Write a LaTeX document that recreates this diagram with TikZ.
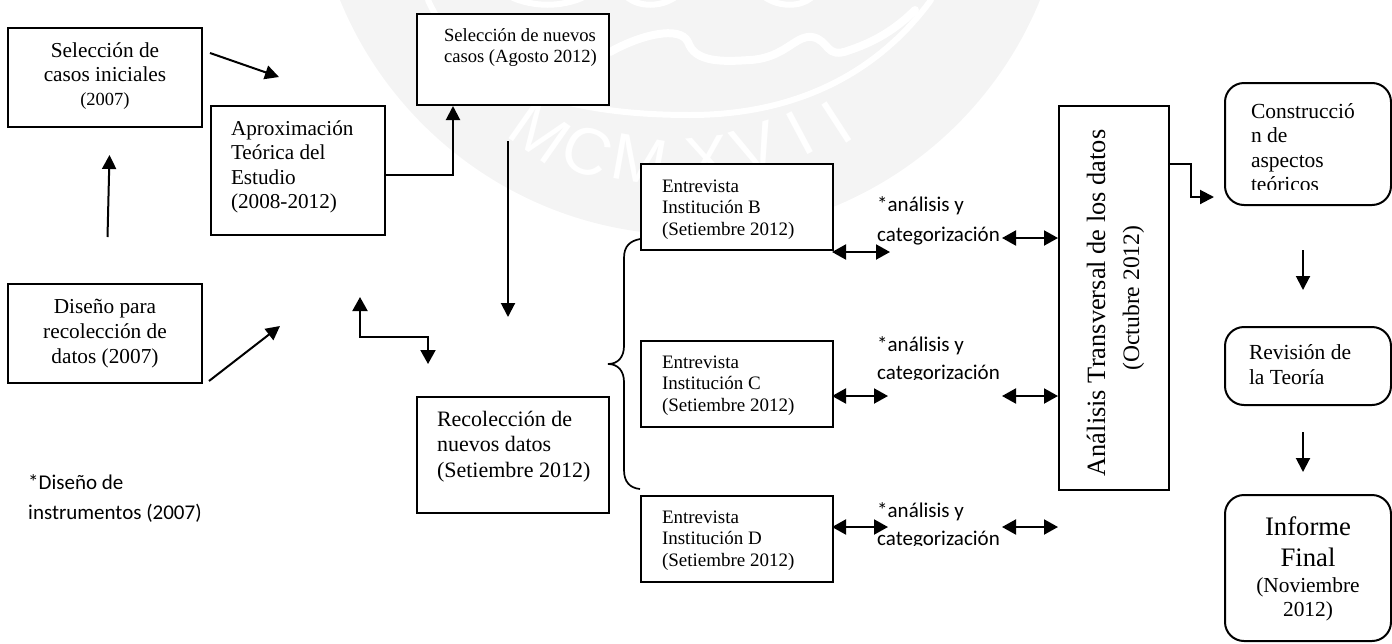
\documentclass[tikz,border=0pt]{standalone}
\usepackage{fontspec}
\setmainfont{Liberation Serif}
\setsansfont{Liberation Sans}
\newfontfamily\calib{Carlito}
\usetikzlibrary{arrows.meta}
\definecolor{wm}{HTML}{F4F4F4}
\newcommand{\inbox}[5]{\parbox[c][#2pt][t]{#1pt}{\vspace*{\dimexpr#3pt-23pt\relax}#4\rule{0pt}{22pt}#5\par}}
\newcommand{\fs}[2]{\fontsize{#1}{#2}\selectfont}
\tikzset{
  bx/.style={draw=black,line width=2pt,rectangle,inner sep=0pt,anchor=north west,fill=white},
  rbx/.style={bx,rounded corners=19pt},
  lbl/.style={inner sep=0pt,anchor=north west},
  ar/.style={line width=2pt,-{Triangle[length=14pt,width=14pt]}},
  dar/.style={line width=2pt,{Triangle[length=14pt,width=15pt]}-{Triangle[length=14pt,width=15pt]}},
  con/.style={line width=1.7pt},
  wline/.style={white,line width=6pt,line cap=round}
}
\begin{document}
\begin{tikzpicture}[x=1pt,y=-1pt]
\useasboundingbox (0,0) rectangle (1392,643);
% watermark
\begin{scope}
\clip (0,0) rectangle (1392,643);
\fill[wm] (690,-143) circle[radius=378];
\draw[wline] (428,0) .. controls (455,60) and (520,115) .. (690,115) .. controls (800,115) and (880,70) .. (931,0);
\draw[wline,line width=8pt] (610,52) .. controls (640,35) and (680,25) .. (688,42) .. controls (695,62) and (720,62) .. (750,60) .. controls (785,58) and (795,35) .. (812,37) .. controls (830,40) and (825,60) .. (850,50) .. controls (880,40) and (900,25) .. (915,10);
\draw[wline] (513,-2) .. controls (535,7) and (560,7) .. (582,-2);
\draw[wline] (628,-2) .. controls (640,7) and (660,7) .. (674,-2);
\draw[wline] (766,-2) .. controls (780,7) and (800,7) .. (811,-2);
\foreach \t/\xx/\yy/\r in {M/540/133/-35,C/587/151/-22,M/640/160/-10,X/707/160/6,V/755/148/18,I/800/133/28,I/837/122/33}
  \node[white,inner sep=0pt,rotate=\r] at (\xx,\yy) {\fs{66}{66}\sffamily\t};
\end{scope}
% boxes
\node[bx] (A) at (7,27) {\inbox{194}{99}{30}{\fs{21.3}{24}\centering}{Selección de\\casos iniciales\\{\fs{18.5}{24}(2007)}}};
\node[bx] (B) at (210,105) {\inbox{174}{129}{30}{\fs{21.2}{24.5}\raggedright\leftskip=20pt}{Aproximación\\Teórica del\\Estudio\\(2008-2012)}};
\node[bx] (C) at (416,13) {\inbox{192}{91}{28}{\fs{18.6}{21}\raggedright\leftskip=27pt}{Selección de nuevos\\casos (Agosto 2012)}};
\node[bx] (D) at (7,283) {\inbox{194}{99}{30}{\fs{21.3}{25}\centering}{Diseño para\\recolección de\\datos (2007)}};
\node[bx] (R) at (416,396) {\inbox{192}{116}{30}{\fs{22}{25.5}\raggedright\leftskip=20pt}{Recolección de\\nuevos datos\\(Setiembre 2012)}};
\node[bx] (EB) at (640,163) {\inbox{192}{86}{29}{\fs{19}{21.5}\raggedright\leftskip=21pt}{Entrevista\\Institución B\\(Setiembre 2012)}};
\node[bx] (EC) at (640,340) {\inbox{192}{86}{28}{\fs{19}{21.5}\raggedright\leftskip=21pt}{Entrevista\\Institución C\\(Setiembre 2012)}};
\node[bx] (ED) at (640,495) {\inbox{192}{86}{28}{\fs{19}{21.5}\raggedright\leftskip=21pt}{Entrevista\\Institución D\\(Setiembre 2012)}};
\node[bx] (AN) at (1058,105) {\rotatebox{90}{\inbox{384}{110}{47}{\fs{26.4}{34}\centering}{\hspace*{-10pt}Análisis Transversal de los datos\\{\fs{23.6}{34}(Octubre 2012)}}}};
\node[rbx] (CO) at (1224,82) {\inbox{166}{122}{36}{\fs{21.5}{24.5}\raggedright\leftskip=26pt}{Construcció\\n de\\aspectos\\teóricos}};
\fill[white] (1245,190) rectangle (1370,202);
\node[rbx] (RE) at (1224,326) {\inbox{166}{78}{33}{\fs{21.5}{25}\raggedright\leftskip=24pt}{Revisión de\\la Teoría}};
\node[rbx] (IN) at (1224,494) {\inbox{166}{146}{41}{\fs{26.7}{31}\centering}{Informe\\Final\\[-5pt]{\fs{21.4}{24}(Noviembre}\\[-7pt]{\fs{21.4}{24}2012)}}};
% free text
\node[lbl] (T1) at (28,467) {\inbox{220}{60}{23}{\calib\fs{21}{30}\raggedright}{*Diseño de\\instrumentos (2007)}};
\node[lbl] (T2) at (877,190) {\inbox{180}{60}{22}{\calib\fs{21}{30}\raggedright}{*análisis y\\categorización}};
\begin{scope}
\clip (870,320) rectangle (1010,379);
\node[lbl] (T3) at (877,330) {\inbox{180}{60}{22}{\calib\fs{21}{28}\raggedright}{*análisis y\\categorización}};
\end{scope}
\begin{scope}
\clip (870,490) rectangle (1010,545);
\node[lbl] (T4) at (877,496) {\inbox{180}{60}{22}{\calib\fs{21}{28}\raggedright}{*análisis y\\categorización}};
\end{scope}
% coordinates
\coordinate (a1) at (210,53); \coordinate (a2) at (279,77);
\coordinate (u1) at (107.5,237); \coordinate (u2) at (109.5,155);
\coordinate (d1) at (209,381); \coordinate (d2) at (280,326);
\coordinate (s1) at (508,141); \coordinate (s2) at (508,317);
\coordinate (e1) at (360,297); \coordinate (e2) at (428,364);
\coordinate (rb1) at (890,252); \coordinate (rb2) at (1002,238);
\coordinate (rc1) at (888,396); \coordinate (rc2) at (1002,396);
\coordinate (rd1) at (888,527); \coordinate (rd2) at (1002,527);
\coordinate (rd3) at (1058,527);
\coordinate (z1) at (1303,250); \coordinate (z2) at (1303,290);
\coordinate (z3) at (1303,432); \coordinate (z4) at (1303,472);
\coordinate (o1) at (1214,197);
% connectors
\draw[ar] (a1) -- (a2);
\draw[ar] (u1) -- (u2);
\draw[ar] (d1) -- (d2);
\draw[ar] (s1) -- (s2);
\draw[ar] ([yshift=-4.5pt]B.east) -| ([xshift=-60pt]C.south);
\draw[dar] (e1) |- (428,337) -- (e2);
\draw[dar] (832,252) -- (rb1);
\draw[dar] (rb2) -- (1058,238);
\draw[dar] (832,396) -- (rc1);
\draw[dar] (rc2) -- (1058,396);
\draw[dar] (832,527) -- (rd1);
\draw[dar] (rd2) -- (rd3);
\draw[ar] (1168,164) -- (1191,164) -- (1191,197) -- (o1);
\draw[ar] (z1) -- (z2);
\draw[ar] (z3) -- (z4);
\draw[con] (640,239) .. controls (630,241) and (624,246) .. (624,258) -- (624,346) .. controls (624,357) and (618,364) .. (608,364) .. controls (618,364) and (624,371) .. (624,382) -- (624,470) .. controls (624,482) and (630,488) .. (640,489);
\end{tikzpicture}
\end{document}
